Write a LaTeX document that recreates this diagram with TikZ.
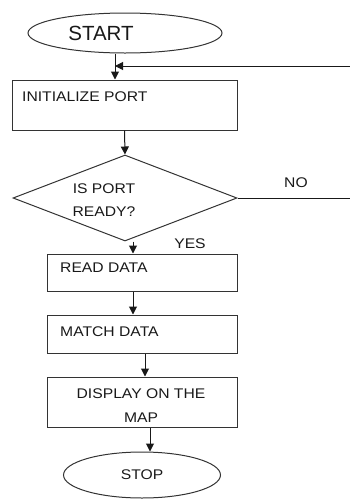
\documentclass[tikz,border=0pt]{standalone}
\usepackage{fontspec}
\newfontfamily\flowfont{Liberation Sans}[FakeStretch=1.12]
\newfontfamily\startfont{Liberation Sans}
\usetikzlibrary{shapes}
\usetikzlibrary{arrows.meta}
\usetikzlibrary{calc}

\begin{document}
\begin{tikzpicture}[x=1pt,y=-1pt]%%port flow

                \tikzstyle{box}  = [rectangle, draw=black!80, line width=1pt, inner sep=0pt, minimum width=190pt]
                \tikzstyle{term} = [ellipse, draw=black!80, line width=1pt, inner sep=0pt]
                \tikzstyle{txt}  = [font=\flowfont\fontsize{14}{23.5}\selectfont, text=black!90, inner sep=0pt, align=center]
                \tikzstyle{arr}  = [draw=black!90, line width=1pt, -{Triangle[length=8pt,width=8pt]}]
                \useasboundingbox (0,0) rectangle (350,499);

                % terminals, boxes and the test
                \node [term, minimum width=194pt, minimum height=40pt](start) at (125,33) {};
                \node [txt, font=\startfont\fontsize{20.5}{24}\selectfont](startT) at (101,33) {START};
                \node [box, minimum width=225pt, minimum height=50pt](init) at (124.5,105) {};
                \node [txt, anchor=west](initT) at (22,97) {INITIALIZE PORT};
                \node [diamond, draw=black!80, line width=1pt, inner sep=0pt, minimum width=224pt, minimum height=86pt](ask) at (125,198) {};
                \node [txt](askT) at (104,200) {IS PORT\\READY?};
                \node [box, minimum height=37pt](read) at (142,272.5) {};
                \node [txt, anchor=west](readT) at (60,268) {READ DATA};
                \node [box, minimum height=38pt](match) at (142,334) {};
                \node [txt, anchor=west](matchT) at (60,332) {MATCH DATA};
                \node [box, minimum height=50pt](disp) at (142,402) {};
                \node [txt](dispT) at (141,405.5) {DISPLAY ON THE\\MAP};
                \node [term, minimum width=157pt, minimum height=46pt, txt](stop) at (142,475) {STOP};

                \node [txt](no) at (296,183) {NO};
                \node [txt](yes) at (190,244) {YES};

                % connectors
                \coordinate (j) at (115,66);
                \coordinate (edge) at (356,0);
                \draw [arr] (start.south -| j) -- (init.north -| j);
                \draw [arr] (ask.east) -- (ask.east -| edge) |- (j);
                \draw [arr] (init.south) -- (ask.north);
                \draw [arr] ([xshift=8pt]ask.south) -- ([xshift=-9pt]read.north);
                \draw [arr] ([xshift=-9pt]read.south) -- ([xshift=-9pt]match.north);
                \draw [arr] ([xshift=3pt]match.south) -- ([xshift=3pt]disp.north);
                \draw [arr] ([xshift=8pt]disp.south) -- ([xshift=8pt]stop.north);
\end{tikzpicture}
\end{document}
